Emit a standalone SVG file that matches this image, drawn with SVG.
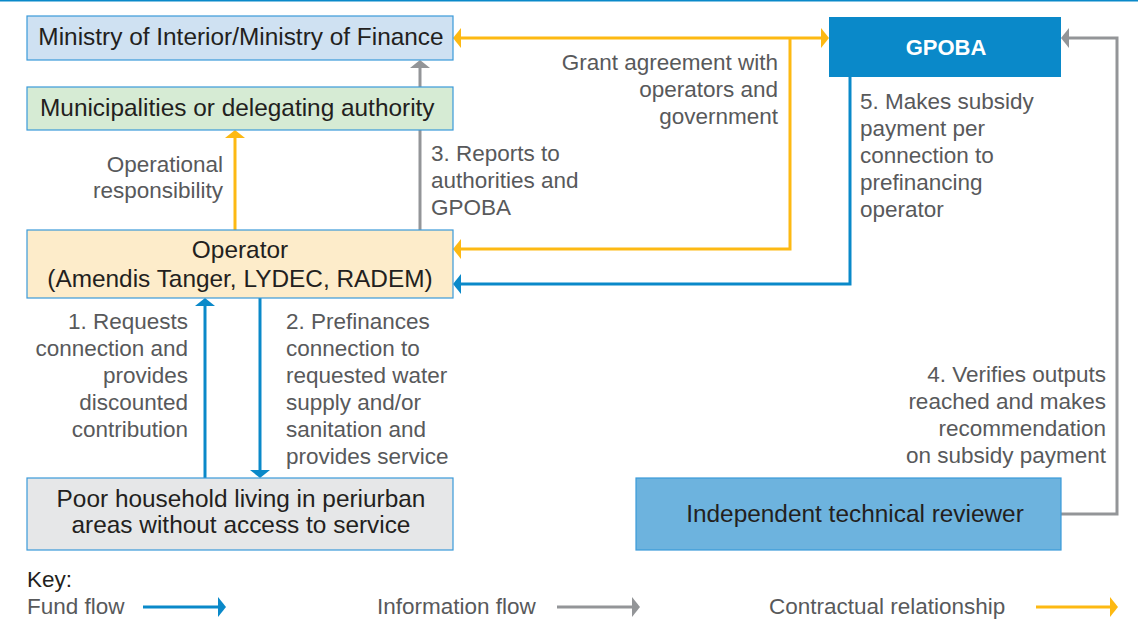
<svg xmlns="http://www.w3.org/2000/svg" width="1138" height="624" viewBox="0 0 1138 624">
  <style>
    .box { stroke: #3a9ad9; stroke-width: 1.2; }
    .nt { font-family: "Liberation Sans", Arial, sans-serif; font-size: 24.4px; fill: #231f20; }
    .lbl { font-family: "Liberation Sans", Arial, sans-serif; font-size: 22.5px; fill: #58595b; }
    .end { text-anchor: end; }
    .mid { text-anchor: middle; }
    .c { fill: none; stroke-width: 3; }
    .blue { stroke: #0a89c9; }
    .yel { stroke: #fdb913; }
    .gray { stroke: #939598; }
  </style>
  <defs>
    <marker id="ab" markerUnits="userSpaceOnUse" markerWidth="8" markerHeight="20" refX="1" refY="10" orient="auto-start-reverse" viewBox="0 0 8 20">
      <path d="M0,0 L8,10 L0,20 z" fill="#0a89c9"/>
    </marker>
    <marker id="ay" markerUnits="userSpaceOnUse" markerWidth="8" markerHeight="20" refX="1" refY="10" orient="auto-start-reverse" viewBox="0 0 8 20">
      <path d="M0,0 L8,10 L0,20 z" fill="#fdb913"/>
    </marker>
    <marker id="ag" markerUnits="userSpaceOnUse" markerWidth="8" markerHeight="20" refX="1" refY="10" orient="auto-start-reverse" viewBox="0 0 8 20">
      <path d="M0,0 L8,10 L0,20 z" fill="#939598"/>
    </marker>
  </defs>
  <rect x="0" y="0" width="1138" height="624" fill="#ffffff"/>
  <rect x="0" y="0" width="1138" height="1.5" fill="#0a89c9"/>

  <g id="connectors">
    <line class="c yel" x1="460" y1="38" x2="822" y2="38" marker-start="url(#ay)" marker-end="url(#ay)"/>
    <polyline class="c yel" points="790,38 790,249 460,249" marker-end="url(#ay)"/>
    <line class="c gray" x1="420" y1="230" x2="420" y2="67" marker-end="url(#ag)"/>
    <line class="c yel" x1="235" y1="230" x2="235" y2="137" marker-end="url(#ay)"/>
    <polyline class="c blue" points="850,77 850,284 460,284" marker-end="url(#ab)"/>
    <polyline class="c gray" points="1061,514 1117,514 1117,38 1068,38" marker-end="url(#ag)"/>
    <line class="c blue" x1="205" y1="478" x2="205" y2="305" marker-end="url(#ab)"/>
    <line class="c blue" x1="260" y1="298" x2="260" y2="471" marker-end="url(#ab)"/>
  </g>

  <g id="ministry">
    <rect class="box" x="27" y="16" width="426" height="44" fill="#cfe1f2"/>
    <text class="nt mid" x="241" y="45">Ministry of Interior/Ministry of Finance</text>
  </g>
  <g id="municipalities">
    <rect class="box" x="27" y="87" width="426" height="43" fill="#d6ebd4"/>
    <text class="nt" x="40" y="116">Municipalities or delegating authority</text>
  </g>
  <g id="operator">
    <rect class="box" x="27" y="230" width="426" height="68" fill="#fdecca"/>
    <text class="nt mid" x="240" y="258">Operator</text>
    <text class="nt mid" x="240" y="287">(Amendis Tanger, LYDEC, RADEM)</text>
  </g>
  <g id="household">
    <rect class="box" x="27" y="478" width="426" height="72" fill="#e6e7e8"/>
    <text class="nt mid" x="241" y="507">Poor household living in periurban</text>
    <text class="nt mid" x="241" y="533">areas without access to service</text>
  </g>
  <g id="gpoba">
    <rect x="829" y="17" width="232" height="60" fill="#0a89c9"/>
    <text class="mid" x="946" y="55" font-family="Liberation Sans, Arial, sans-serif" font-size="22px" font-weight="bold" fill="#ffffff">GPOBA</text>
  </g>
  <g id="reviewer">
    <rect class="box" x="636" y="478" width="425" height="72" fill="#6db3de"/>
    <text class="nt mid" x="855" y="522">Independent technical reviewer</text>
  </g>

  <g id="labels">
    <text class="lbl end" x="223" y="172">Operational</text>
    <text class="lbl end" x="223" y="198">responsibility</text>

    <text class="lbl" x="431" y="161">3. Reports to</text>
    <text class="lbl" x="431" y="188">authorities and</text>
    <text class="lbl" x="431" y="215">GPOBA</text>

    <text class="lbl end" x="778" y="70">Grant agreement with</text>
    <text class="lbl end" x="778" y="97">operators and</text>
    <text class="lbl end" x="778" y="124">government</text>

    <text class="lbl" x="860" y="109">5. Makes subsidy</text>
    <text class="lbl" x="860" y="136">payment per</text>
    <text class="lbl" x="860" y="163">connection to</text>
    <text class="lbl" x="860" y="190">prefinancing</text>
    <text class="lbl" x="860" y="217">operator</text>

    <text class="lbl end" x="188" y="329">1. Requests</text>
    <text class="lbl end" x="188" y="356">connection and</text>
    <text class="lbl end" x="188" y="383">provides</text>
    <text class="lbl end" x="188" y="410">discounted</text>
    <text class="lbl end" x="188" y="437">contribution</text>

    <text class="lbl" x="286" y="329">2. Prefinances</text>
    <text class="lbl" x="286" y="356">connection to</text>
    <text class="lbl" x="286" y="383">requested water</text>
    <text class="lbl" x="286" y="410">supply and/or</text>
    <text class="lbl" x="286" y="437">sanitation and</text>
    <text class="lbl" x="286" y="464">provides service</text>

    <text class="lbl end" x="1106" y="382">4. Verifies outputs</text>
    <text class="lbl end" x="1106" y="409">reached and makes</text>
    <text class="lbl end" x="1106" y="436">recommendation</text>
    <text class="lbl end" x="1106" y="463">on subsidy payment</text>
  </g>

  <g id="key">
    <text class="lbl" x="27" y="587" style="fill:#231f20">Key:</text>
    <text class="lbl" x="27" y="614">Fund flow</text>
    <line class="c blue" x1="143" y1="607" x2="219" y2="607" marker-end="url(#ab)"/>
    <text class="lbl" x="377" y="614">Information flow</text>
    <line class="c gray" x1="557" y1="607" x2="633" y2="607" marker-end="url(#ag)"/>
    <text class="lbl" x="769" y="614">Contractual relationship</text>
    <line class="c yel" x1="1036" y1="607" x2="1111" y2="607" marker-end="url(#ay)"/>
  </g>
</svg>
